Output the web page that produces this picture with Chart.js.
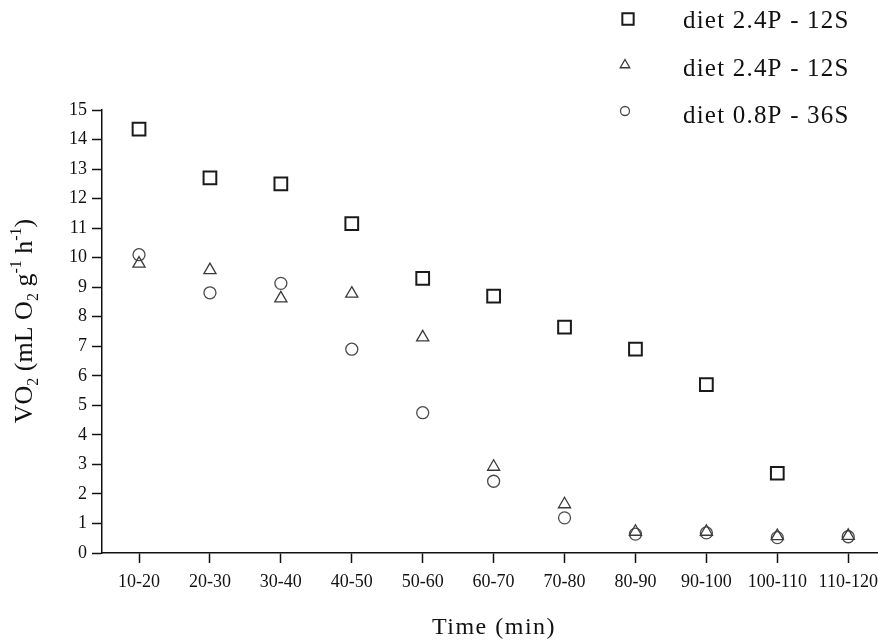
<!DOCTYPE html>
<html>
<head>
<meta charset="utf-8">
<script src="https://cdn.jsdelivr.net/npm/chart.js@4/dist/chart.umd.min.js"></script>
<style>
  html, body { margin: 0; padding: 0; background: #fff; }
  #chart { display: block; }
</style>
</head>
<body>
<canvas id="chart" width="878" height="640"></canvas>
<script>
const categories = ['10-20', '20-30', '30-40', '40-50', '50-60', '60-70', '70-80', '80-90', '90-100', '100-110', '110-120'];
const seriesNames = ['diet 2.4P - 12S', 'diet 2.4P - 12S', 'diet 0.8P - 36S'];
const squareValues = [14.35, 12.7, 12.5, 11.15, 9.3, 8.7, 7.65, 6.9, 5.7, 2.7, null];
const triangleValues = [9.8, 9.58, 8.62, 8.78, 7.3, 2.92, 1.65, 0.72, 0.72, 0.57, 0.58];
const circleValues = [10.1, 8.81, 9.13, 6.9, 4.75, 2.43, 1.19, 0.64, 0.68, 0.52, 0.55];
const yTitleParts = [['VO', 'n'], ['2', 'sub'], [' (mL O', 'n'], ['2', 'sub'], [' g', 'n'], ['-1', 'sup'], [' h', 'n'], ['-1', 'sup'], [')', 'n']];
const xTitle = 'Time (min)';

const serif = "'Liberation Serif', 'DejaVu Serif', serif";
const ink = '#111';

function toPoints(values) {
  return values.map((v, i) => v == null ? null : { x: i + 1, y: v }).filter(p => p);
}

const markers = [
  { pointStyle: 'rect', radius: 9, borderWidth: 2, color: '#1a1a1a', legendRadius: 8, legendWidth: 2 },
  { pointStyle: 'triangle', radius: 7, borderWidth: 1.3, color: '#3a3a3a', legendRadius: 5.5, legendWidth: 1.3 },
  { pointStyle: 'circle', radius: 6, borderWidth: 1.3, color: '#4a4a4a', legendRadius: 4.5, legendWidth: 1.3 }
];

const datasets = [squareValues, triangleValues, circleValues].map((vals, i) => ({
  label: seriesNames[i],
  data: toPoints(vals),
  showLine: false,
  pointStyle: markers[i].pointStyle,
  pointRadius: markers[i].radius,
  pointHoverRadius: markers[i].radius,
  pointBorderWidth: markers[i].borderWidth,
  pointBorderColor: markers[i].color,
  pointBackgroundColor: 'rgba(255,255,255,0)',
  clip: false
}));

// titles and legend drawn by hand (sub/superscripts, free placement)
const extras = {
  id: 'extras',
  afterDraw(chart) {
    const ctx = chart.ctx;
    ctx.save();
    ctx.fillStyle = ink;

    // legend
    const legendRows = [28, 76, 123];
    const markerPos = [[628, 19], [625, 65], [625, 111]];
    seriesNames.forEach((name, i) => {
      ctx.save();
      ctx.strokeStyle = markers[i].color;
      ctx.fillStyle = '#fff';
      ctx.lineWidth = markers[i].legendWidth;
      Chart.helpers.drawPoint(ctx, {
        pointStyle: markers[i].pointStyle,
        radius: markers[i].legendRadius,
        rotation: 0,
        borderWidth: markers[i].legendWidth
      }, markerPos[i][0], markerPos[i][1]);
      ctx.restore();
      ctx.font = '25px ' + serif;
      ctx.letterSpacing = '1.2px';
      ctx.textAlign = 'left';
      ctx.textBaseline = 'alphabetic';
      ctx.fillText(name, 683, legendRows[i]);
    });

    // x title
    ctx.font = '24px ' + serif;
    ctx.letterSpacing = '1.5px';
    ctx.textAlign = 'center';
    ctx.fillText(xTitle, 494, 634);

    // y title, rotated
    ctx.letterSpacing = '0px';
    ctx.textAlign = 'left';
    const big = '26px ' + serif, small = '16px ' + serif;
    let total = 0;
    yTitleParts.forEach(([t, s]) => {
      ctx.font = s === 'n' ? big : small;
      total += ctx.measureText(t).width;
    });
    ctx.translate(32, 321);
    ctx.rotate(-Math.PI / 2);
    let x = -total / 2;
    yTitleParts.forEach(([t, s]) => {
      ctx.font = s === 'n' ? big : small;
      const dy = s === 'sub' ? 6 : (s === 'sup' ? -11 : 0);
      ctx.fillText(t, x, dy);
      x += ctx.measureText(t).width;
    });
    ctx.restore();
  }
};

new Chart(document.getElementById('chart').getContext('2d'), {
  type: 'scatter',
  data: { datasets },
  plugins: [extras],
  options: {
    responsive: false,
    animation: false,
    layout: { autoPadding: false, padding: { top: 110, right: 0, left: 0, bottom: 0 } },
    plugins: { legend: { display: false }, tooltip: { enabled: false } },
    scales: {
      x: {
        type: 'linear',
        min: 0.478,
        max: 11.42,
        afterBuildTicks: scale => { scale.ticks = categories.map((c, i) => ({ value: i + 1 })); },
        afterFit: scale => {
          scale.height = 87;
          scale.paddingLeft = 0;
          scale.paddingRight = 0;
        },
        grid: { drawOnChartArea: false, tickLength: 10, tickColor: ink, tickWidth: 1.5 },
        border: { color: ink, width: 1.5 },
        ticks: {
          callback: v => categories[v - 1],
          font: { family: serif, size: 18 },
          color: ink,
          padding: 8,
          maxRotation: 0,
          autoSkip: false
        }
      },
      y: {
        min: 0,
        max: 15,
        afterFit: scale => {
          scale.width = 102;
          scale.paddingTop = 0;
          scale.paddingBottom = 0;
        },
        grid: { drawOnChartArea: false, tickLength: 10, tickColor: ink, tickWidth: 1.5 },
        border: { color: ink, width: 1.5 },
        ticks: {
          stepSize: 1,
          font: { family: serif, size: 18 },
          color: ink,
          padding: 5
        }
      }
    }
  }
});
</script>
</body>
</html>
